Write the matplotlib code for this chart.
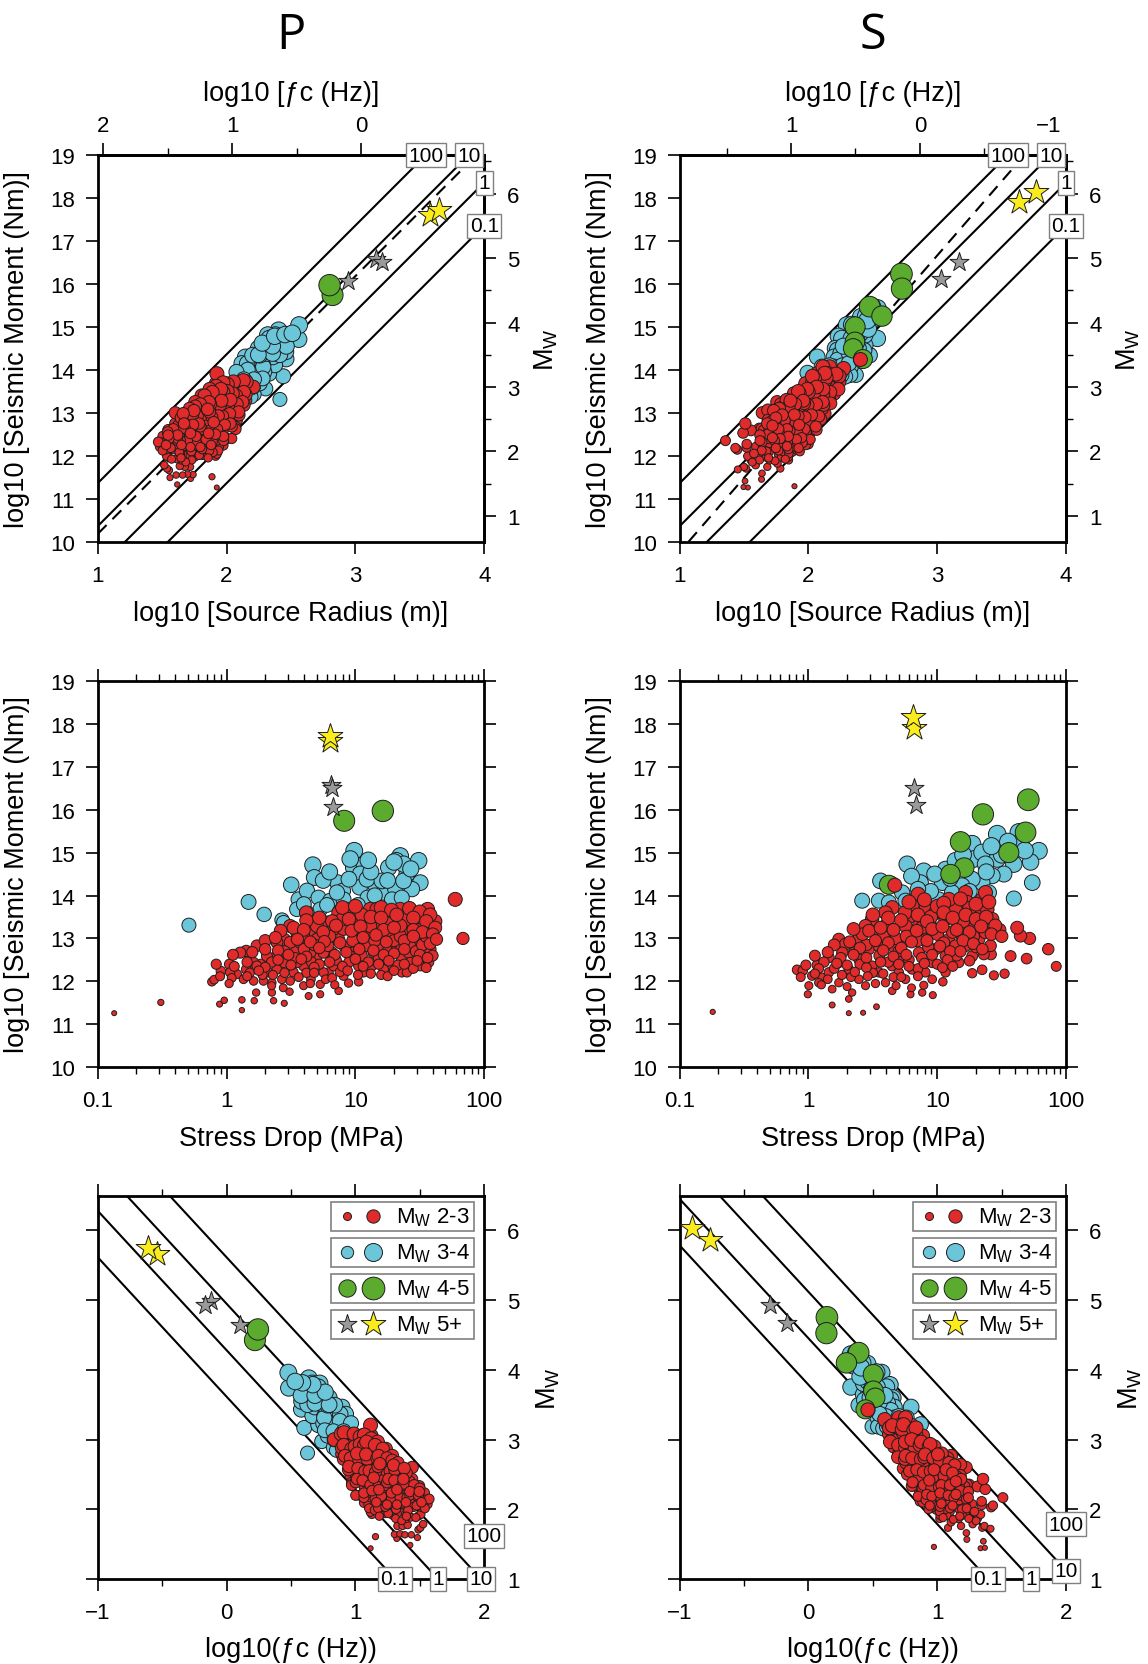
import numpy as np
import matplotlib.pyplot as plt
from matplotlib.patches import Rectangle
from matplotlib.ticker import MultipleLocator, FuncFormatter, NullFormatter

plt.rcParams['font.family'] = ['Liberation Sans', 'DejaVu Sans']
plt.rcParams['mathtext.fontset'] = 'custom'
plt.rcParams['mathtext.rm'] = 'Liberation Sans'

# circles: (log10 stress drop [MPa], log10 seismic moment [Nm])
P_RED = [
    (-0.872, 11.26), (-0.510, 11.51), (-0.054, 11.47), (-0.018, 11.56), (0.119, 11.33), (0.119, 11.57),
    (0.215, 11.55), (0.230, 11.74), (0.352, 11.74), (0.365, 11.55), (0.448, 11.49), (0.489, 11.76),
    (0.637, 11.66), (0.727, 11.70), (0.870, 11.78), (0.947, 11.96), (1.025, 11.99), (-0.114, 11.99),
    (-0.096, 12.04), (-0.044, 12.24), (0.023, 12.40), (0.080, 12.17), (0.153, 12.71), (0.153, 12.28),
    (0.236, 12.83), (0.267, 12.40), (0.210, 12.01), (0.326, 12.21), (0.352, 11.97), (0.391, 12.59),
    (0.430, 12.05), (0.448, 12.98), (0.494, 13.29), (0.520, 12.21), (0.546, 12.75), (0.572, 12.91),
    (0.619, 13.60), (0.598, 12.36), (0.637, 13.14), (0.655, 12.05), (0.701, 12.59), (0.753, 13.06),
    (0.774, 13.37), (0.792, 12.21), (0.818, 12.67), (0.870, 12.98), (0.870, 13.60), (0.895, 12.36),
    (0.934, 13.29), (0.947, 13.68), (0.986, 12.67), (1.012, 13.06), (1.025, 12.36), (1.064, 13.45),
    (1.090, 12.83), (1.115, 13.68), (1.128, 12.36), (1.154, 13.22), (1.193, 12.83), (1.219, 13.60),
    (1.232, 12.52), (1.258, 13.14), (1.284, 12.28), (1.297, 13.45), (1.322, 12.83), (1.348, 13.68),
    (1.361, 12.52), (1.387, 13.14), (1.413, 12.67), (1.439, 13.37), (1.478, 12.91), (1.504, 12.36),
    (1.561, 13.68), (1.577, 13.22), (1.582, 12.75), (1.569, 12.45), (1.594, 12.98), (1.775, 13.91),
    (1.835, 13.00), (1.361, 12.21), (1.219, 12.28), (1.426, 12.44), (1.504, 12.59), (1.542, 13.33),
    (1.167, 13.68), (0.986, 13.60), (0.831, 13.22), (0.701, 12.98), (0.546, 13.14), (0.443, 12.44),
    (0.313, 12.59), (0.210, 12.44), (0.028, 12.21), (0.132, 12.05), (0.287, 12.01), (0.494, 12.01),
    (0.598, 11.90), (0.727, 11.93), (0.753, 12.21), (0.908, 12.13), (1.064, 12.21), (1.141, 12.67),
    (0.960, 12.59), (0.831, 12.36), (0.650, 12.67), (0.753, 12.67), (0.546, 12.44), (0.391, 12.28),
    (0.494, 12.91), (0.701, 13.29), (0.908, 13.22), (1.090, 13.14), (1.271, 12.83), (1.193, 13.29),
    (1.400, 13.45), (1.478, 13.37), (1.400, 12.21), (1.115, 13.29), (0.787, 12.83), (0.598, 13.06),
    (0.391, 12.91), (0.236, 12.36), (0.106, 12.67), (0.66, 12.45), (0.72, 12.40), (0.85, 12.50),
    (0.92, 12.80), (0.98, 12.95), (1.05, 12.60), (1.10, 12.45), (1.18, 12.55), (1.25, 12.70),
    (1.30, 12.95), (1.35, 13.05), (1.42, 12.85), (1.47, 12.70), (1.52, 12.85), (1.55, 13.05),
    (1.60, 12.60), (1.45, 12.30), (1.33, 12.38), (1.20, 12.15), (1.02, 12.15), (0.88, 12.22),
    (0.77, 12.05), (0.62, 12.20), (0.53, 12.55), (0.60, 12.75), (0.68, 12.85), (0.80, 13.05),
    (0.90, 13.45), (1.00, 13.35), (1.05, 13.55), (1.25, 13.35), (1.35, 13.30), (1.50, 13.50),
    (1.62, 13.40), (0.45, 12.70), (0.35, 12.45), (0.28, 12.15), (0.18, 12.20), (0.95, 12.45),
    (1.15, 12.95),
    (0.90, 13.72), (1.00, 13.75), (1.20, 13.72), (1.28, 13.66), (1.42, 13.70), (1.50, 13.62),
    (1.58, 13.55), (0.62, 13.42), (0.72, 13.48), (0.82, 13.40), (0.95, 13.45), (1.12, 13.50),
    (1.20, 13.48), (1.32, 13.55), (1.45, 13.48), (1.55, 13.40), (1.62, 13.25), (0.42, 13.18),
    (0.52, 13.25), (0.60, 13.20), (0.75, 13.15), (0.85, 13.30), (0.97, 13.18), (1.04, 13.28),
    (1.22, 13.20), (1.30, 13.25), (1.45, 13.20), (1.52, 13.15), (1.60, 13.10), (0.30, 12.95),
    (0.38, 13.02), (0.55, 12.98), (0.65, 12.92), (0.76, 12.93), (0.88, 12.90), (1.06, 13.02),
    (1.16, 13.08), (1.24, 12.92), (1.38, 12.95), (1.45, 13.05), (1.58, 12.88), (1.63, 12.98),
    (0.05, 12.62), (0.20, 12.68), (0.30, 12.75), (0.40, 12.72), (0.48, 12.62), (0.62, 12.58),
    (0.72, 12.78), (0.84, 12.62), (0.93, 12.68), (1.03, 12.75), (1.14, 12.72), (1.22, 12.62),
    (1.30, 12.65), (1.38, 12.75), (1.50, 12.62), (1.56, 12.55), (-0.08, 12.40), (0.06, 12.35),
    (0.16, 12.45), (0.30, 12.33), (0.40, 12.50), (0.50, 12.38), (0.58, 12.52), (0.68, 12.33),
    (0.80, 12.45), (0.90, 12.35), (1.00, 12.52), (1.06, 12.35), (1.18, 12.40), (1.26, 12.48),
    (1.38, 12.40), (1.48, 12.48), (1.55, 12.32), (-0.05, 12.12), (0.04, 12.08), (0.16, 12.12),
    (0.25, 12.25), (0.36, 12.15), (0.45, 12.20), (0.56, 12.10), (0.68, 12.20), (0.82, 12.08),
    (0.94, 12.25), (1.12, 12.18), (1.25, 12.12), (1.30, 12.25), (0.02, 11.95), (0.35, 11.90),
    (0.44, 11.85), (0.84, 11.92), (0.65, 11.95),
]
P_BLUE = [
    (-0.292, 13.31), (0.171, 13.85), (0.292, 13.56), (0.430, 13.43), (0.502, 14.25), (0.670, 14.71),
    (0.681, 14.42), (0.559, 13.91), (0.624, 14.11), (0.714, 13.95), (0.805, 13.88), (0.862, 14.30),
    (0.903, 14.11), (0.991, 15.04), (0.986, 14.65), (1.069, 14.73), (1.038, 14.50), (1.033, 14.19),
    (1.095, 13.95), (1.154, 14.26), (1.219, 14.07), (1.258, 14.65), (1.348, 14.92), (1.317, 14.81),
    (1.491, 14.81), (1.400, 14.50), (1.504, 14.30), (1.439, 14.15), (1.310, 14.15), (1.284, 13.91),
    (0.908, 13.91), (0.727, 13.68), (0.546, 13.68), (0.443, 13.37), (0.857, 14.07), (1.090, 14.38),
    (1.206, 14.34), (1.374, 14.34), (1.374, 14.73), (0.624, 13.60), (0.75, 14.35), (0.80, 14.55),
    (0.95, 14.38), (1.12, 14.55), (1.15, 14.00), (1.25, 14.35), (1.43, 14.62), (1.30, 14.78),
    (1.10, 14.82), (0.96, 14.85), (1.36, 13.95), (0.60, 13.80), (0.78, 13.78), (1.02, 13.78),
]
P_GREEN = [(0.913, 15.74), (1.213, 15.97)]
# stars: (log10 source radius [m], log10 M0 [Nm], log10 stress drop [MPa])
P_GREY = [(3.16, 16.58, 0.81), (3.21, 16.50, 0.82), (2.94, 16.06, 0.83)]
P_YELLOW = [(3.58, 17.60, 0.80), (3.65, 17.72, 0.80)]

S_RED = [
    (-0.743, 11.29), (0.184, 11.45), (0.313, 11.26), (0.424, 11.27), (0.528, 11.41), (-0.005, 11.70),
    (0.003, 11.90), (-0.088, 12.27), (-0.044, 12.25), (0.067, 12.38), (0.106, 12.09), (0.184, 11.82),
    (0.313, 11.59), (0.339, 11.74), (0.443, 11.90), (0.650, 11.78), (0.792, 11.70), (0.883, 11.74),
    (0.965, 11.68), (0.895, 11.91), (1.043, 11.99), (1.271, 12.19), (1.348, 12.27), (1.439, 12.14),
    (1.522, 12.18), (1.416, 12.63), (1.569, 12.59), (1.693, 12.53), (1.861, 12.75), (1.923, 12.35),
    (1.716, 13.00), (1.646, 13.06), (1.620, 13.25), (1.483, 13.20), (1.413, 12.83), (1.361, 12.63),
    (0.670, 14.24), (0.851, 14.03), (0.650, 13.72), (0.236, 12.98), (0.287, 12.87), (0.158, 12.56),
    (0.236, 12.44), (0.313, 12.28), (0.391, 12.52), (0.468, 12.75), (0.520, 13.14), (0.494, 13.45),
    (0.598, 13.29), (0.650, 12.83), (0.546, 12.21), (0.650, 12.36), (0.753, 12.05), (0.727, 12.59),
    (0.792, 13.14), (0.805, 13.53), (0.908, 13.68), (0.986, 13.60), (1.012, 13.22), (0.908, 12.98),
    (0.857, 12.67), (0.960, 12.44), (1.064, 12.59), (1.090, 12.98), (1.167, 13.29), (1.141, 13.68),
    (1.219, 14.07), (1.232, 13.84), (1.348, 13.91), (1.374, 14.07), (1.322, 13.60), (1.387, 13.68),
    (1.426, 13.45), (1.271, 13.22), (1.219, 12.83), (1.167, 12.44), (1.271, 12.59), (1.064, 12.21),
    (0.908, 12.21), (0.701, 12.21), (0.391, 12.05), (0.236, 11.97), (0.080, 11.97), (0.028, 12.13),
    (0.158, 12.21), (0.262, 12.67), (0.391, 12.98), (0.443, 13.29), (0.546, 12.83), (0.624, 13.06),
    (0.727, 12.91), (0.753, 13.29), (0.857, 13.29), (0.934, 13.37), (1.064, 13.45), (1.090, 13.91),
    (0.494, 12.36), (0.598, 11.97), (0.805, 12.28), (0.986, 12.75), (1.141, 12.83), (1.322, 12.98),
    (1.374, 13.14), (1.193, 13.06), (0.805, 13.76), (0.598, 13.60), (0.352, 12.67), (0.55, 12.60),
    (0.62, 12.45), (0.70, 12.70), (0.78, 12.50), (0.85, 12.95), (0.93, 12.80), (1.00, 13.10),
    (1.05, 12.90), (1.12, 13.15), (1.20, 13.40), (1.28, 13.05), (0.95, 13.50), (0.88, 13.25),
    (0.68, 13.00), (0.58, 13.05), (0.45, 12.85), (0.40, 12.40), (0.33, 12.10), (0.20, 12.30),
    (0.12, 12.45), (0.50, 12.20), (0.66, 12.10), (0.85, 12.30), (1.00, 12.40), (1.15, 12.60),
    (1.30, 12.80), (0.75, 13.60), (1.00, 13.75), (1.25, 13.70), (0.42, 13.10),
    (0.78, 13.85), (0.90, 13.90), (1.05, 13.82), (1.18, 13.92), (1.30, 13.80), (1.40, 13.85),
    (0.50, 13.55), (0.62, 13.48), (0.72, 13.42), (0.85, 13.55), (0.92, 13.40), (1.05, 13.60),
    (1.12, 13.48), (1.22, 13.55), (1.30, 13.45), (1.38, 13.50), (1.45, 13.30), (0.35, 13.22),
    (0.47, 13.18), (0.56, 13.25), (0.66, 13.20), (0.76, 13.05), (0.84, 13.18), (0.96, 13.22),
    (1.04, 13.28), (1.15, 13.20), (1.25, 13.15), (1.34, 13.28), (1.42, 13.10), (1.50, 13.05),
    (0.20, 12.85), (0.32, 12.92), (0.40, 12.78), (0.52, 12.95), (0.62, 12.90), (0.72, 12.78),
    (0.80, 12.92), (0.92, 12.95), (1.02, 12.82), (1.10, 12.70), (1.20, 12.95), (1.28, 12.88),
    (1.35, 12.75), (0.05, 12.60), (0.15, 12.68), (0.25, 12.55), (0.35, 12.62), (0.45, 12.55),
    (0.58, 12.72), (0.66, 12.58), (0.76, 12.62), (0.88, 12.55), (0.96, 12.62), (1.08, 12.50),
    (1.18, 12.70), (1.25, 12.48), (-0.02, 12.38), (0.08, 12.30), (0.22, 12.42), (0.30, 12.38),
    (0.45, 12.32), (0.56, 12.45), (0.70, 12.40), (0.78, 12.35), (0.90, 12.42), (1.04, 12.32),
    (1.12, 12.35), (-0.06, 12.10), (0.05, 12.18), (0.15, 12.05), (0.26, 12.15), (0.36, 12.22),
    (0.46, 12.12), (0.58, 12.18), (0.72, 12.10), (0.85, 12.12), (0.96, 12.05), (0.10, 11.92),
    (0.30, 11.88), (0.52, 11.95), (0.68, 11.90), (0.80, 11.85),
]
S_BLUE = [
    (0.417, 13.88), (0.559, 14.34), (0.766, 14.73), (0.895, 14.57), (0.870, 14.30), (0.727, 14.07),
    (0.546, 13.88), (0.624, 13.84), (0.753, 13.88), (0.844, 13.95), (0.934, 14.07), (1.038, 14.30),
    (1.064, 14.61), (1.141, 14.81), (1.271, 15.20), (1.284, 14.85), (1.348, 15.00), (1.465, 15.43),
    (1.633, 15.47), (1.646, 15.23), (1.465, 14.85), (1.788, 15.04), (1.724, 14.78), (1.594, 14.73),
    (1.517, 14.50), (1.737, 14.30), (1.594, 13.93), (1.426, 14.46), (1.348, 14.30), (1.271, 14.38),
    (1.193, 14.23), (1.115, 14.07), (1.400, 14.07), (1.012, 13.91), (1.206, 14.69), (1.374, 14.73),
    (0.65, 14.25), (0.80, 14.45), (0.98, 14.50), (1.10, 14.40), (1.20, 14.95), (1.38, 14.55),
    (1.50, 14.95), (1.55, 15.25), (1.42, 15.15), (1.68, 15.05), (0.95, 14.10), (1.25, 14.10),
    (0.85, 14.15),
]
S_GREEN = [(1.706, 16.23), (1.354, 15.89), (1.685, 15.47), (1.180, 15.25), (1.555, 15.00),
           (1.209, 14.65), (1.102, 14.50), (0.624, 14.25)]
S_GREY = [(3.03, 16.11, 0.831), (3.167, 16.50, 0.823)]
S_YELLOW = [(3.633, 17.90, 0.823), (3.767, 18.15, 0.81)]

# log10(fc) = const - log10(r): top axis of the radius panels, and the stress-drop lines of the fc panels
FC_AXIS = {'P': 3.043, 'S': 2.865}
FC_LINES = {'P': 3.055, 'S': 3.14}
# dashed reference line in the radius panels: (log r, log M0) end points
DASH = {'P': ((1.0, 10.18), (3.82, 18.64)), 'S': ((1.07, 10.0), (3.59, 18.70))}
SD_LINES = [0.1, 1, 10, 100]
TOP_TICKS = {'P': [2, 1, 0], 'S': [1, 0, -1]}

COLORS = {'red': '#e12a2a', 'blue': '#6cc6da', 'green': '#5aab2e', 'grey': '#9a9a9a', 'yellow': '#fbec1c'}
EDGE = '#1e1e1e'
TICK_FS = 16
LABEL_FS = 19.5


def m0_to_mw(m0):
    return (np.asarray(m0) - 9.1) / 1.5


def mw_to_m0(mw):
    return np.asarray(mw) * 1.5 + 9.1


def radius(logsd, logm0):
    return (logm0 - np.log10(16 / 7) - 6 - logsd) / 3


def circle_size(kind, logm0):
    mw = m0_to_mw(logm0)
    if kind == 'red':
        t = np.clip((3.2 - mw) / 1.76, 0, 1)
        d = 14 - 9 * t ** 1.5
    elif kind == 'blue':
        d = 14 + 2.5 * (mw - 2.8)
    else:
        d = 19 + 2.0 * (mw - 3.4)
    return (np.clip(d, 4.5, 24) * 0.72) ** 2


def events(w):
    data = {'P': (P_BLUE, P_GREEN, P_RED, P_GREY, P_YELLOW),
            'S': (S_BLUE, S_GREEN, S_RED, S_GREY, S_YELLOW)}[w]
    out = []
    for kind, arr in zip(['blue', 'green', 'red'], data[:3]):
        a = np.array(arr)
        out.append((kind, radius(a[:, 0], a[:, 1]), a[:, 1], a[:, 0]))
    for kind, arr in zip(['grey', 'yellow'], data[3:]):
        a = np.array(arr)
        out.append((kind, a[:, 0], a[:, 1], a[:, 2]))
    return out


def draw_events(ax, w, view):
    for kind, logr, logm0, logsd in events(w):
        if view == 'radius':
            x, y = logr, logm0
        elif view == 'stress':
            x, y = 10 ** logsd, logm0
        else:
            x, y = FC_AXIS[w] - logr, m0_to_mw(logm0)
        if kind in ('grey', 'yellow'):
            d = 20 if kind == 'grey' else 26
            ax.scatter(x, y, s=(d * 0.72) ** 2, marker='*', c=COLORS[kind], edgecolors=EDGE,
                       linewidths=0.7, zorder=6)
        else:
            ax.scatter(x, y, s=circle_size(kind, logm0), c=COLORS[kind], edgecolors=EDGE,
                       linewidths=0.7, zorder=4)


def line_label(ax, x, y, sd):
    ax.text(x, y, f'{sd:g}', ha='center', va='center', fontsize=15, zorder=10, clip_on=False,
            bbox=dict(boxstyle='square,pad=0.12', fc='white', ec='#808080', lw=1.0))


def style(ax, pad=8):
    for sp in ax.spines.values():
        sp.set_linewidth(2.0)
    ax.tick_params(which='major', direction='out', length=8.5, width=1.2, pad=pad, labelsize=TICK_FS)
    ax.tick_params(which='minor', direction='out', length=5, width=1.0)


def panel_radius(ax, w):
    ax.set_xlim(1, 4)
    ax.set_ylim(10, 19)
    xs = np.linspace(0.5, 4.5, 20)
    for sd in SD_LINES:
        b = np.log10(16 / 7 * sd * 1e6)
        ax.plot(xs, b + 3 * xs, color='black', lw=1.5, zorder=2)
        x_end = min(4, (19 - b) / 3)
        line_label(ax, x_end, b + 3 * x_end, sd)
    (x0, y0), (x1, y1) = DASH[w]
    ax.plot([x0, x1], [y0, y1], color='black', lw=1.5, dashes=(6, 4), zorder=2)
    draw_events(ax, w, 'radius')
    ax.set_xticks([1, 2, 3, 4])
    ax.set_yticks(range(10, 20))
    style(ax)
    ax.set_xlabel('log10 [Source Radius (m)]', fontsize=LABEL_FS)
    ax.xaxis.set_label_coords(0.5, -0.15)
    ax.set_ylabel('log10 [Seismic Moment (Nm)]', fontsize=LABEL_FS)
    ax.yaxis.set_label_coords(-0.176, 0.5)

    c = FC_AXIS[w]
    top = ax.secondary_xaxis('top', functions=(lambda r: c - r, lambda f: c - f))
    top.set_xticks(TOP_TICKS[w])
    top.xaxis.set_minor_locator(MultipleLocator(0.5))
    style(top, pad=5)
    top.set_xlabel('log10 [ƒc (Hz)]', fontsize=LABEL_FS, labelpad=11)

    right = ax.secondary_yaxis('right', functions=(m0_to_mw, mw_to_m0))
    right.set_yticks(range(1, 7))
    right.yaxis.set_minor_locator(MultipleLocator(0.5))
    style(right)
    right.set_ylabel(r'$\mathregular{M_W}$', fontsize=LABEL_FS, labelpad=9)


def panel_stress(ax, w):
    ax.set_xscale('log')
    ax.set_xlim(0.1, 100)
    ax.set_ylim(10, 19)
    draw_events(ax, w, 'stress')
    ax.set_yticks(range(10, 20))
    ax.xaxis.set_major_formatter(FuncFormatter(lambda v, p: f'{v:g}'))
    ax.xaxis.set_minor_formatter(NullFormatter())
    style(ax)
    ax.tick_params(which='both', top=True, right=True, labeltop=False, labelright=False)
    ax.set_xlabel('Stress Drop (MPa)', fontsize=LABEL_FS)
    ax.xaxis.set_label_coords(0.5, -0.15)
    ax.set_ylabel('log10 [Seismic Moment (Nm)]', fontsize=LABEL_FS)
    ax.yaxis.set_label_coords(-0.176, 0.5)


def panel_fc(ax, w):
    ax.set_xlim(-1, 2)
    ax.set_ylim(1, 6.5)
    xs = np.linspace(-1.5, 2.5, 20)
    c = FC_LINES[w]
    for sd in SD_LINES:
        b = (np.log10(16 / 7 * sd * 1e6) + 3 * c - 9.1) / 1.5
        ax.plot(xs, b - 2 * xs, color='black', lw=1.5, zorder=2)
        x_end = min(2, (b - 1) / 2)
        line_label(ax, x_end, b - 2 * x_end, sd)
    draw_events(ax, w, 'fc')
    ax.set_xticks([-1, 0, 1, 2])
    ax.xaxis.set_minor_locator(MultipleLocator(0.5))
    ax.set_yticks(range(1, 7))
    style(ax)
    ax.tick_params(which='both', top=True, right=True, labeltop=False,
                   labelleft=False, labelright=True)
    ax.set_xlabel('log10(ƒc (Hz))', fontsize=LABEL_FS)
    ax.xaxis.set_label_coords(0.5, -0.15)
    ax.yaxis.set_label_position('right')
    ax.set_ylabel(r'$\mathregular{M_W}$', fontsize=LABEL_FS)
    ax.yaxis.set_label_coords(1.13, 0.5)

    # legend: one framed box per magnitude class
    entries = [('2-3', [('red', 'o', 8), ('red', 'o', 13.3)]),
               ('3-4', [('blue', 'o', 12.3), ('blue', 'o', 18)]),
               ('4-5', [('green', 'o', 17.3), ('green', 'o', 22.7)]),
               ('5+', [('grey', '*', 20), ('yellow', '*', 26)])]
    for i, (lab, marks) in enumerate(entries):
        top = 0.983 - i * 0.094
        yc = top - 0.037
        ax.add_patch(Rectangle((0.603, top - 0.074), 0.370, 0.074, transform=ax.transAxes,
                               fc='white', ec='#808080', lw=1.2, zorder=8))
        for (kind, m, d), xc in zip(marks, [0.645, 0.713]):
            ax.scatter([xc], [yc], s=(d * 0.72) ** 2, marker=m, c=COLORS[kind], edgecolors=EDGE,
                       linewidths=0.7, transform=ax.transAxes, zorder=9, clip_on=False)
        ax.text(0.771, yc, r'$\mathregular{M_W}$ ' + lab, transform=ax.transAxes, fontsize=16,
                ha='left', va='center', zorder=9)


fig = plt.figure(figsize=(11.48, 16.65), dpi=100)
lefts = {'P': 0.0851, 'S': 0.592}
for w in ['P', 'S']:
    ax1 = fig.add_axes([lefts[w], 0.6741, 0.3367, 0.2322])
    panel_radius(ax1, w)
    ax2 = fig.add_axes([lefts[w], 0.3584, 0.3367, 0.2321])
    panel_stress(ax2, w)
    ax3 = fig.add_axes([lefts[w], 0.0511, 0.3367, 0.2302])
    panel_fc(ax3, w)
    fig.text(lefts[w] + 0.3367 / 2, 0.978, w, fontsize=35, family='Open Sans', ha='center', va='center')

fig.savefig('out.png', dpi=100)
